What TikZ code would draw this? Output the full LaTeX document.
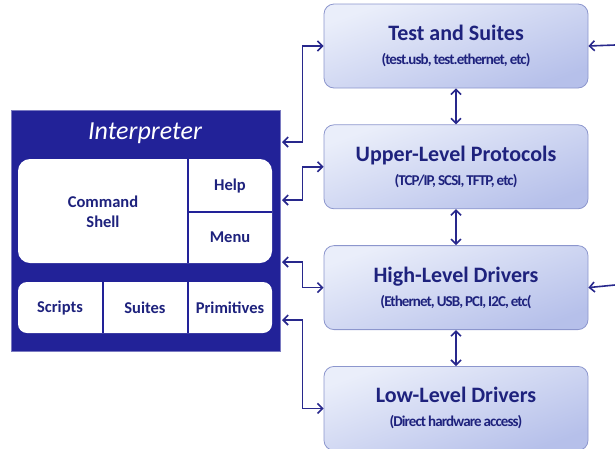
\documentclass[tikz,border=0pt]{standalone}
\usepackage{fontspec}
\setmainfont{Carlito}
\usetikzlibrary{arrows.meta, positioning, fit}
\definecolor{intblue}{RGB}{34,34,152}
\definecolor{navy}{RGB}{30,34,125}
\definecolor{boxlight}{RGB}{234,238,250}
\definecolor{boxdark}{RGB}{182,192,234}
\definecolor{boxline}{RGB}{140,150,205}
\definecolor{arrowblue}{RGB}{40,40,140}
\newcommand{\subline}{\fontsize{15}{22}\selectfont\addfontfeatures{LetterSpace=-6}\spaceskip=2pt plus 1pt\relax}

\begin{document}
\begin{tikzpicture}[x=1pt, y=-1pt,
	>={Straight Barb[length=5pt,width=10pt]},
	layer/.style={draw=boxline, line width=0.8pt, rounded corners=10pt,
		top color=boxlight, bottom color=boxdark, shading angle=20,
		minimum width=264pt, minimum height=84pt, align=center, text=navy,
		font=\bfseries\fontsize{22}{24}\selectfont},
	cell/.style={text=navy, align=center, font=\bfseries\fontsize{16.5}{20}\selectfont},
	divider/.style={draw=intblue, line width=1.3pt},
	conn/.style={draw=arrowblue, line width=1.6pt}]
	\useasboundingbox (0,0) rectangle (615,448);
	%
	% software layers
	\node[layer] (tst) at (456,46)
		{Test and Suites\\ \subline (test.usb, test.ethernet, etc)};
	\node[layer, below=36pt of tst] (upl)
		{Upper-Level Protocols\\ \subline (TCP/IP, SCSI, TFTP, etc)};
	\node[layer, below=36pt of upl] (hld)
		{High-Level Drivers\\ \subline (Ethernet, USB, PCI, I2C, etc(};
	\node[layer, below=36pt of hld] (lld)
		{Low-Level Drivers\\ \subline (Direct hardware access)};
	%
	% interpreter
	\node[fill=intblue, draw=intblue!60, line width=0.6pt, minimum width=269pt, minimum height=241pt] (interp) at (145.5,230.5) {};
	\node[text=white, font=\itshape\fontsize{26}{30}\selectfont] (ititle) at (145,133) {Interpreter};
	\fill[white, rounded corners=12pt] (18,159) rectangle (272,263);
	\fill[white, rounded corners=9pt] (18,282) rectangle (272,333);
	\draw[divider] (188,159) -- (188,263) (188,212) -- (272,212);
	\draw[divider] (103,282) -- (103,333) (188,282) -- (188,333);
	\node[cell] (shell) at (103,212) {Command\\Shell};
	\node[cell] (help) at (230,186) {Help};
	\node[cell] (menu) at (230,237) {Menu};
	\node[cell] (scripts) at (60,308) {Scripts};
	\node[cell] (suites) at (145,308) {Suites};
	\node[cell] (prims) at (230,308) {Primitives};
	%
	% ports on the interpreter and free ends on the right
	\coordinate (ip1) at (282,142);
	\coordinate (ip2) at (282,200);
	\coordinate (ip3) at (282,262);
	\coordinate (ip4) at (282,320);
	\coordinate (rt1) at (615,45);
	\coordinate (rt3) at (615,285);
	%
	% connectors
	\draw[conn, <->] (tst) -- (upl);
	\draw[conn, <->] (upl) -- (hld);
	\draw[conn, <->] (hld) -- (lld);
	\draw[conn, <->] (tst.west) -- ++(-21,0) |- (ip1);
	\draw[conn, <->] (upl.west) -- ++(-21,0) |- (ip2);
	\draw[conn, <->] (hld.west) -- ++(-21,0) |- (ip3);
	\draw[conn, <->] (lld.west) -- ++(-21,0) |- (ip4);
	\draw[conn, ->] (rt1) -- (tst.east);
	\draw[conn, ->] (rt3) -- (hld.east);
\end{tikzpicture}
\end{document}
